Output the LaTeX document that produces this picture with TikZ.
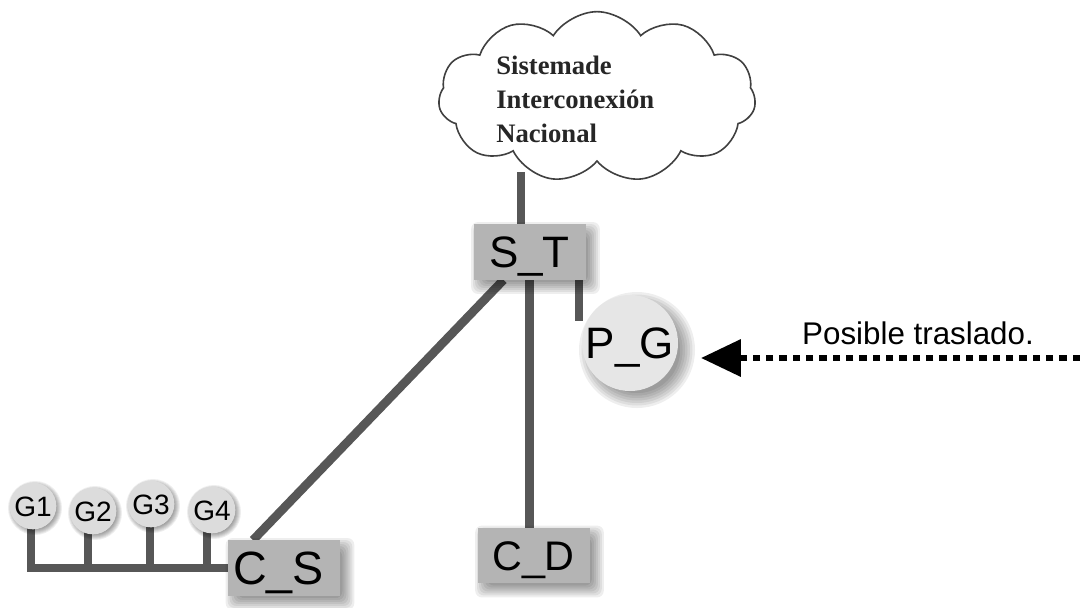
\documentclass[tikz,border=0pt]{standalone}
\usepackage{fontspec}
\setmainfont{Liberation Sans}
\newfontfamily\cloudfont{Liberation Serif}
\usetikzlibrary{shapes.symbols,arrows.meta,calc}

\definecolor{wire}{HTML}{575757}
\definecolor{boxgray}{HTML}{B4B4B4}
\definecolor{ballgray}{HTML}{E6E6E6}
\definecolor{smallball}{HTML}{DCDCDC}

\pgfdeclarelayer{bg}
\pgfdeclarelayer{shade}
\pgfsetlayers{bg,shade,main}

% soft shadow behind a rectangular node: node, offset, spread
\newcommand{\boxshade}[3]{%
  \foreach \e in {-4,-2,0,2,4,6,8}{%
    \fill[black, opacity=0.065, rounded corners=5]
      ($(#1.north west)+(#2-#3*\e/8,#2-#3*\e/8)$) rectangle
      ($(#1.south east)+(#2+#3*\e/8,#2+#3*\e/8)$);
  }}
% soft shadow behind a round node: node, offset, radius, spread
\newcommand{\ballshade}[4]{%
  \foreach \e in {-4,-2,0,2,4,6,8}{%
    \fill[black, opacity=0.065]
      ($(#1.center)+(#2,#2)$) circle[radius=#3+#4*\e/8];
  }}

\begin{document}
\begin{tikzpicture}[x=0.75pt,y=-0.75pt,
  wire/.style={draw=wire, line width=6.5pt},
  station/.style={fill=boxgray, minimum width=84pt, minimum height=41.5pt,
    inner sep=0pt, font=\fontsize{33}{33}\selectfont,
    text height=23.5pt, text depth=0pt},
  plant/.style={circle, fill=ballgray, minimum size=72pt, inner sep=0pt,
    font=\fontsize{33}{33}\selectfont, text height=23.5pt, text depth=0pt},
  gen/.style={circle, fill=smallball, minimum size=35pt, inner sep=0pt,
    font=\fontsize{21}{21}\selectfont, text height=15pt, text depth=0pt},
  move/.style={draw=black, line width=5pt, dash pattern=on 5.5pt off 4.5pt,
    -{Triangle[length=30pt,width=27pt]}, shorten >=17pt}
]
\begin{pgfonlayer}{bg}
  \fill[white] (0,0) rectangle (1080,607);
\end{pgfonlayer}
\useasboundingbox (0,0) rectangle (1080,607);

% national grid cloud
\node[cloud, cloud puffs=11, cloud puff arc=115, aspect=1.85,
  draw=black!75, line width=1.2pt, fill=white,
  minimum width=238pt, minimum height=128pt, inner sep=0pt] (SIN) at (597,97) {};
\node[font=\cloudfont\bfseries\fontsize{20}{25.5}\selectfont, text=black!85,
  align=left, anchor=west, inner sep=0pt] (SINtext) at (496,99)
  {Sistemade\\Interconexión\\Nacional};

% stations and plants
\node[station] (ST) at (529.5,252) {S\_T};
\node[station, font=\fontsize{31}{31}\selectfont, text height=22pt] (CD) at (533.5,555.5) {C\_D};
\node[station, font=\fontsize{35}{35}\selectfont, text height=25pt] (CS) at (284,568) {C\_S\hspace*{8pt}};
\node[plant] (PG) at (630,343) {P\_G};

\node[gen] (G1) at (33,506) {G1};
\node[gen] (G2) at (93,511) {G2};
\node[gen] (G3) at (151,504) {G3};
\node[gen] (G4) at (212,510) {G4};

% relocation note
\coordinate (tail) at (1080,358);
\node[font=\fontsize{23.5}{23.5}\selectfont, anchor=center, inner sep=0pt]
  (note) at (918,333) {Posible traslado.};
\draw[move] (tail) -- (tail -| PG.east);

% shadows
\begin{pgfonlayer}{shade}
  \boxshade{ST}{6}{8}
  \boxshade{CD}{6}{8}
  \boxshade{CS}{6}{8}
  \ballshade{PG}{7}{48}{10}
  \ballshade{G1}{2}{23}{4}
  \ballshade{G2}{2}{23}{4}
  \ballshade{G3}{2}{23}{4}
  \ballshade{G4}{2}{23}{4}
\end{pgfonlayer}

% connections
\coordinate (cloudfoot) at (521,172);
\coordinate (pgtop) at (579,321);
\coordinate (g1foot) at ($(G1.center)+(-2,14)$);
\coordinate (g2foot) at ($(G2.center)+(-5,12)$);
\coordinate (g3foot) at ($(G3.center)+(-1,14)$);
\coordinate (g4foot) at ($(G4.center)+(-5,8)$);
\begin{pgfonlayer}{bg}
  \draw[wire] (cloudfoot) -- (cloudfoot |- ST.north);
  \draw[wire] ($(ST.south)+(-26,0)$) -- ($(CS.north)+(-31,0)$);
  \draw[wire] (ST.south) -- (ST.south |- CD.north);
  \draw[wire] (ST.south -| pgtop) -- (pgtop);
  \draw[wire] (g1foot) |- (CS.west);
  \draw[wire] (g2foot) -- (g2foot |- CS.west);
  \draw[wire] (g3foot) -- (g3foot |- CS.west);
  \draw[wire] (g4foot) -- (g4foot |- CS.west);
\end{pgfonlayer}
\end{tikzpicture}
\end{document}
